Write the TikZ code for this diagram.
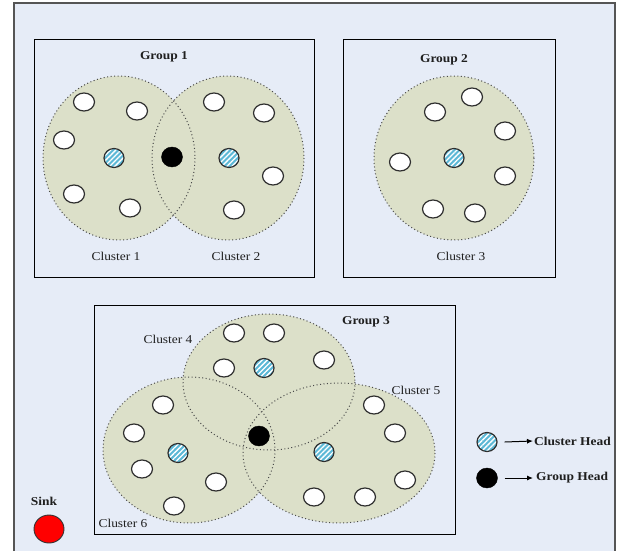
\documentclass[tikz,border=0pt]{standalone}
\usepackage{fontspec}
\setmainfont{Liberation Serif}[FakeStretch=1.12]
\usetikzlibrary{shapes.geometric,patterns.meta,arrows.meta}

\definecolor{bgblue}{HTML}{E6ECF7}
\definecolor{zonefill}{HTML}{DCE0C9}
\definecolor{chblue}{HTML}{5CB8D6}
\definecolor{edgegray}{HTML}{2E2E2E}
\definecolor{framegray}{HTML}{555555}
\definecolor{dotgray}{HTML}{4A4A4A}
\definecolor{sinkred}{HTML}{FF0000}

\tikzset{
  lbl/.style={font=\fontsize{12}{14}\selectfont, text=black!88, inner sep=1pt},
  grouplbl/.style={lbl, font=\fontsize{12}{14}\selectfont\bfseries},
  groupbox/.style={draw=black, line width=0.9pt},
  zone/.style={fill=zonefill},
  zoneedge/.style={draw=dotgray, line width=1pt, dash pattern=on 1pt off 2.5pt},
  sensor/.style={ellipse, draw=edgegray, line width=1.2pt, fill=white,
    minimum width=21pt, minimum height=18pt, inner sep=0pt},
  chnode/.style={ellipse, draw=edgegray, line width=1.2pt,
    preaction={fill=chblue},
    pattern={Lines[angle=45,distance=3.6pt,line width=1.3pt]}, pattern color=white,
    minimum width=20pt, minimum height=19pt, inner sep=0pt},
  ghnode/.style={ellipse, draw=black, fill=black,
    minimum width=21pt, minimum height=20pt, inner sep=0pt},
  legendarrow/.style={draw=black, line width=1pt, -{Latex[length=6pt,width=5pt]}},
}

\begin{document}
\begin{tikzpicture}[x=1pt,y=-1pt]
\useasboundingbox (0,0) rectangle (617,551);

% outer frame, open at the bottom edge
\fill[bgblue] (14,3) rectangle (615,551);
\draw[framegray, line width=1.1pt] (14,551) -- (14,3) -- (615,3) -- (615,551);

% group boxes
\draw[groupbox] (34,39) rectangle (314,277);
\draw[groupbox] (343,39) rectangle (555,277);
\draw[groupbox] (94,305) rectangle (455,534);

% cluster areas: fills first, dotted borders on top
\fill[zone] (119,158) ellipse [x radius=76, y radius=82];
\fill[zone] (228,158) ellipse [x radius=76, y radius=82];
\fill[zone] (454,158) ellipse [x radius=80, y radius=82];
\fill[zone] (269,382) ellipse [x radius=86, y radius=68];
\fill[zone] (189,450) ellipse [x radius=86, y radius=73];
\fill[zone] (339,453) ellipse [x radius=96, y radius=70];

\draw[zoneedge] (119,158) ellipse [x radius=76, y radius=82];
\draw[zoneedge] (228,158) ellipse [x radius=76, y radius=82];
\draw[zoneedge] (454,158) ellipse [x radius=80, y radius=82];
\draw[zoneedge] (269,382) ellipse [x radius=86, y radius=68];
\draw[zoneedge] (189,450) ellipse [x radius=86, y radius=73];
\draw[zoneedge] (339,453) ellipse [x radius=96, y radius=70];

% labels
\node[grouplbl] (g1lbl) at (164,57) {Group 1};
\node[grouplbl] (g2lbl) at (444,60) {Group 2};
\node[grouplbl] (g3lbl) at (366,322) {Group 3};
\node[lbl] (c1lbl) at (116,256) {Cluster 1};
\node[lbl] (c2lbl) at (236,256) {Cluster 2};
\node[lbl] (c3lbl) at (461,256) {Cluster 3};
\node[lbl] (c4lbl) at (168,339) {Cluster 4};
\node[lbl] (c5lbl) at (416,390) {Cluster 5};
\node[lbl] (c6lbl) at (123,523) {Cluster 6};

% cluster 1
\node[sensor] (c1a) at (84,102) {};
\node[sensor] (c1b) at (137,111) {};
\node[sensor] (c1c) at (64,140) {};
\node[chnode] (c1h) at (114,158) {};
\node[sensor] (c1d) at (74,194) {};
\node[sensor] (c1e) at (130,208) {};
% group 1 head
\node[ghnode] (g1h) at (172,157) {};
% cluster 2
\node[sensor] (c2a) at (214,102) {};
\node[sensor] (c2b) at (264,113) {};
\node[chnode] (c2h) at (229,158) {};
\node[sensor] (c2c) at (273,176) {};
\node[sensor] (c2d) at (234,210) {};

% cluster 3
\node[sensor] (c3a) at (472,97) {};
\node[sensor] (c3b) at (435,112) {};
\node[sensor] (c3c) at (505,131) {};
\node[chnode] (c3h) at (454,158) {};
\node[sensor] (c3d) at (400,162) {};
\node[sensor] (c3e) at (505,176) {};
\node[sensor] (c3f) at (433,209) {};
\node[sensor] (c3g) at (475,213) {};

% cluster 4
\node[sensor] (c4a) at (234,333) {};
\node[sensor] (c4b) at (274,333) {};
\node[sensor] (c4c) at (224,368) {};
\node[chnode] (c4h) at (264,368) {};
\node[sensor] (c4d) at (324,360) {};
% cluster 6
\node[sensor] (c6a) at (163,405) {};
\node[sensor] (c6b) at (134,433) {};
\node[chnode] (c6h) at (178,453) {};
\node[sensor] (c6c) at (142,469) {};
\node[sensor] (c6d) at (216,482) {};
\node[sensor] (c6e) at (174,506) {};
% cluster 5
\node[sensor] (c5a) at (374,405) {};
\node[sensor] (c5b) at (395,433) {};
\node[chnode] (c5h) at (324,452) {};
\node[sensor] (c5c) at (405,480) {};
\node[sensor] (c5d) at (314,497) {};
\node[sensor] (c5e) at (365,497) {};
% group 3 head
\node[ghnode] (g3h) at (259,436) {};

% legend
\node[chnode] (lgch) at (487,442) {};
\node[grouplbl, anchor=west] (lgchtxt) at (533,441) {Cluster Head};
\node[ghnode] (lggh) at (487,478) {};
\node[grouplbl, anchor=west] (lgghtxt) at (535,478) {Group Head};
\draw[legendarrow] ([xshift=7pt]lgch.east) -- (lgchtxt.west);
\draw[legendarrow] ([xshift=7pt]lggh.east) -- ([xshift=-2pt]lgghtxt.west);

% sink
\node[grouplbl] (sinklbl) at (44,501) {Sink};
\node[ellipse, draw=black!80, line width=0.9pt, fill=sinkred,
  minimum width=30pt, minimum height=28pt, inner sep=0pt] (sink) at (49,529) {};
\end{tikzpicture}
\end{document}
